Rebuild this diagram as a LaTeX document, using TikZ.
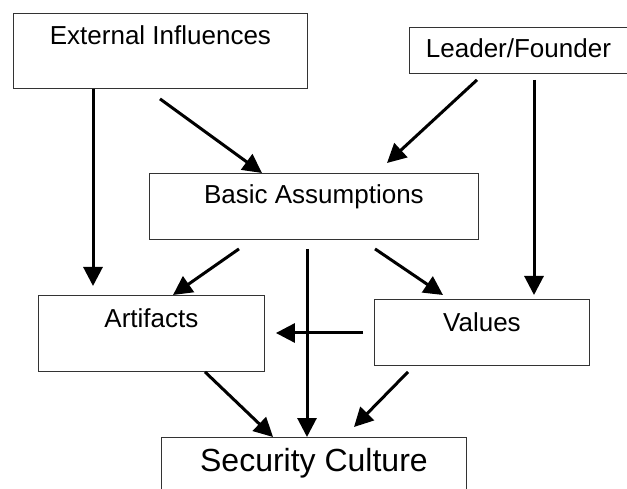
\documentclass[tikz,border=0pt]{standalone}
\usepackage{fontspec}
\setmainfont{Liberation Sans}
\usetikzlibrary{arrows.meta,calc}
\begin{document}
\begin{tikzpicture}[x=1pt,y=-1pt,
  box/.style={draw=black!80,line width=0.9pt,rectangle,inner sep=0pt,anchor=north west,
    font=\fontsize{26}{30}\selectfont},
  arr/.style={line width=3pt,-{Triangle[length=19pt,width=19pt]}}]
\useasboundingbox (0,0) rectangle (627,489);
\clip (0,0) rectangle (627,489);
% boxes: width, text height above baseline, depth below baseline
\node[box,minimum width=294pt,text height=31pt,text depth=44pt] (ext) at (13,13) {External Influences};
\node[box,minimum width=218pt,text height=30pt,text depth=16pt] (lea) at (409,27) {Leader/Founder};
\node[box,minimum width=329pt,text height=30pt,text depth=36pt] (bas) at (149,173) {Basic Assumptions};
\node[box,minimum width=226pt,text height=32pt,text depth=44pt] (art) at (38,295) {Artifacts};
\node[box,minimum width=215pt,text height=32pt,text depth=34pt] (val) at (374,299) {Values};
\node[box,minimum width=305pt,text height=34pt,text depth=40pt,
  font=\fontsize{32}{38}\selectfont] (sec) at (161,437) {Security Culture};
% influences
\draw[arr] ($(ext.south west)+(80,0)$) -- ($(art.north west)+(55,-9)$);
\draw[arr] ($(ext.south west)+(147,10)$) -- ($(bas.north west)+(113,0)$);
\draw[arr] ($(lea.south west)+(68,6)$) -- ($(bas.north west)+(238,-10)$);
\draw[arr] ($(lea.south west)+(125,6)$) -- ($(val.north west)+(160,-4)$);
\draw[arr] ($(bas.south west)+(90,9)$) -- ($(art.north west)+(135,0)$);
\draw[arr] ($(bas.south west)+(226,9)$) -- ($(val.north west)+(69,-4)$);
\draw[arr] ($(bas.south west)+(158,9)$) -- ($(sec.north west)+(146,0)$);
\draw[arr] ($(val.north west)+(-11,34)$) -- ($(art.north east)+(11,38)$);
\draw[arr] ($(art.south west)+(167,0)$) -- ($(sec.north west)+(112,0)$);
\draw[arr] ($(val.south west)+(34,6)$) -- ($(sec.north west)+(193,-10)$);
\end{tikzpicture}
\end{document}
